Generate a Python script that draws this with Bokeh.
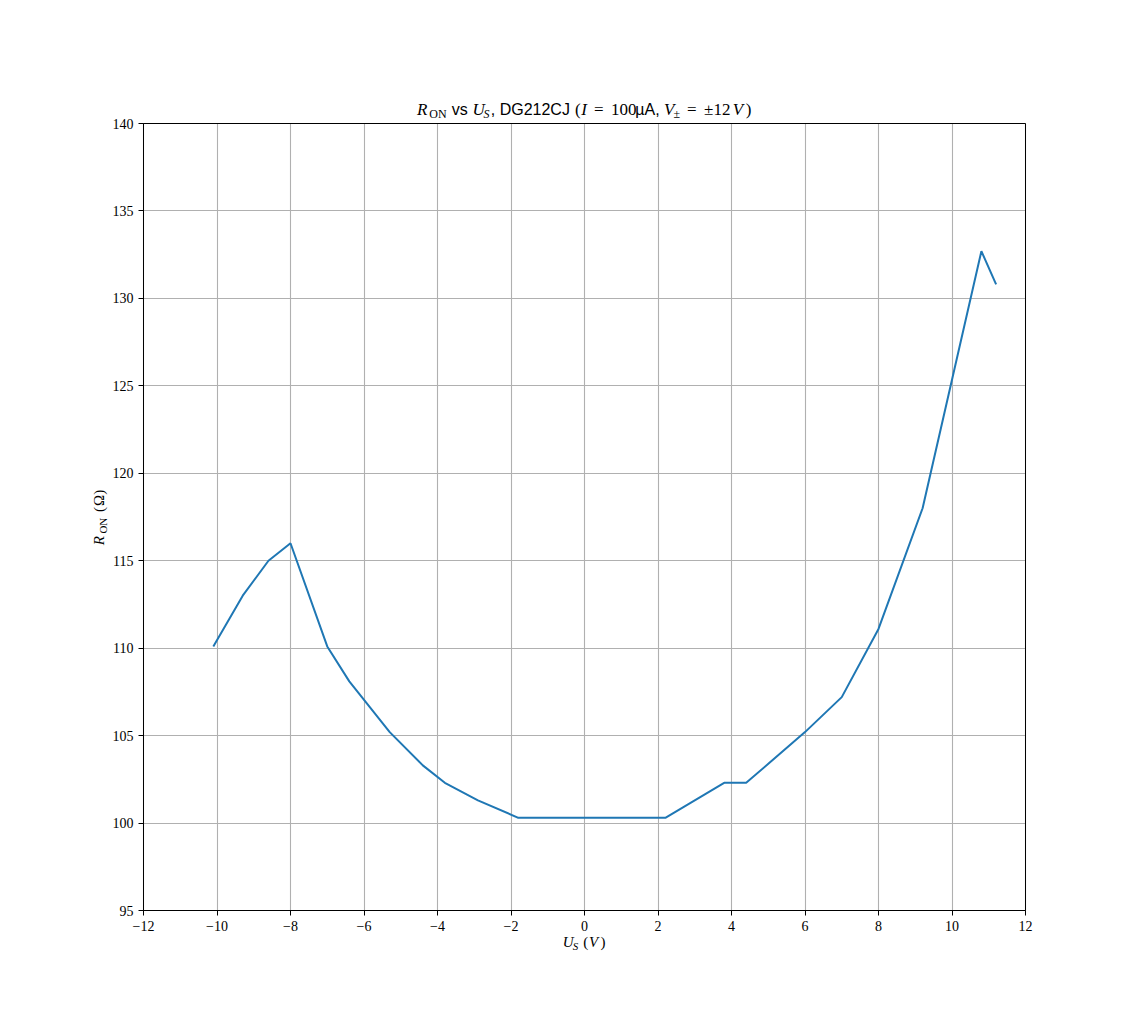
from bokeh.plotting import figure
from bokeh.models import (Label, CustomJSTickFormatter, FixedTicker, Range1d,
                          BoxAnnotation, Grid)
from bokeh.embed import file_html
from bokeh.resources import INLINE
import math

# ---- data ----
us_volts = [-10.1, -9.3, -8.6, -8.0, -7.0, -6.4, -5.3, -4.4, -3.8, -2.9,
            -1.8, 2.2, 3.8, 4.4, 6.0, 7.0, 8.0, 9.2, 10.8, 11.2]
r_on_ohm = [110.1, 113.0, 115.0, 116.0, 110.1, 108.1, 105.2, 103.3, 102.3, 101.3,
            100.3, 100.3, 102.3, 102.3, 105.2, 107.2, 111.1, 118.0, 132.7, 130.8]
x_ticks = list(range(-12, 13, 2))
y_ticks = list(range(95, 141, 5))
x_lim = (-12, 12)
y_lim = (95, 140)

SERIF = "Liberation Serif"
SANS = "Liberation Sans"

# layout (pixels): the frame covers most of the canvas so that the composed
# title / axis labels (inside the frame) are not clipped; the data box is
# placed at AX_L..AX_R x AX_T..AX_B of the canvas.
B_L, B_R, B_T, B_B = 60, 10, 10, 50
FW, FH = 1060, 955
AX_L, AX_R, AX_T, AX_B = 143, 1025, 123, 910
kx = (AX_R - AX_L) / (x_lim[1] - x_lim[0])
ky = (AX_B - AX_T) / (y_lim[1] - y_lim[0])
xr = Range1d(x_lim[0] - (AX_L - B_L) / kx, x_lim[1] + (B_L + FW - AX_R) / kx)
yr = Range1d(y_lim[0] - (B_T + FH - AX_B) / ky, y_lim[1] + (AX_T - B_T) / ky)

p = figure(frame_width=FW, frame_height=FH,
           min_border_left=B_L, min_border_right=B_R,
           min_border_top=B_T, min_border_bottom=B_B,
           x_range=xr, y_range=yr,
           output_backend="svg", toolbar_location=None)

p.background_fill_color = "white"
p.border_fill_color = "white"
p.outline_line_color = None

minus_fmt = "return tick < 0 ? '\u2212' + (-tick) : '' + tick;"
for ax, ticks, loc, bnd in ((p.xaxis[0], x_ticks, y_lim[0], x_lim),
                            (p.yaxis[0], y_ticks, x_lim[0], y_lim)):
    ax.ticker = FixedTicker(ticks=ticks, minor_ticks=[])
    ax.formatter = CustomJSTickFormatter(code=minus_fmt)
    ax.fixed_location = loc
    ax.bounds = bnd
    ax.major_label_text_font = SERIF
    ax.major_label_text_font_size = "14px"
    ax.major_label_text_color = "black"
    ax.major_tick_out = 5
    ax.major_tick_in = 0
    ax.major_tick_line_color = "black"
    ax.major_tick_line_width = 1
    ax.minor_tick_line_color = None
    ax.axis_line_color = "black"
    ax.axis_line_width = 1
    ax.major_label_standoff = 5

p.grid.grid_line_color = "#b0b0b0"
p.grid.grid_line_width = 1.1
if "cross_bounds" in Grid.properties():
    p.xgrid.cross_bounds = y_lim
    p.ygrid.cross_bounds = x_lim
else:
    for kw in (dict(right=x_lim[0]), dict(left=x_lim[1]),
               dict(top=y_lim[0]), dict(bottom=y_lim[1])):
        p.add_layout(BoxAnnotation(fill_color="white", fill_alpha=1,
                                   line_color=None, level="underlay", **kw))

p.line(us_volts, r_on_ohm, line_color="#1f77b4", line_width=2)

# axes box (spines)
p.add_layout(BoxAnnotation(left=x_lim[0], right=x_lim[1], bottom=y_lim[0], top=y_lim[1],
                           fill_alpha=0, line_color="black", line_width=1, line_alpha=1))

# ---- composed math-like texts (pieces laid out along a line) ----
# each piece: (text, font, style, size_px, start_em, sub_drop_px)
def place(pieces, em, total_em, x, y, x_off, y_off, vertical=False):
    half = total_em * em / 2.0
    for text, font, style, size, start, drop in pieces:
        along = -half + start * em
        if vertical:
            lab = Label(x=x, y=y, x_offset=x_off + drop, y_offset=y_off + along,
                        angle=math.pi / 2)
        else:
            lab = Label(x=x, y=y, x_offset=x_off + along, y_offset=y_off - drop)
        lab.text = text
        lab.text_font = font
        lab.text_font_style = style
        lab.text_font_size = f"{size}px"
        lab.text_color = "black"
        lab.text_align = "left"
        lab.text_baseline = "alphabetic"
        p.add_layout(lab)

x_mid = (x_lim[0] + x_lim[1]) / 2
y_mid = (y_lim[0] + y_lim[1]) / 2

title_pieces = [
    ("R", SERIF, "italic", 17, 0.000, 0),
    ("ON", SERIF, "normal", 12, 0.759, 4.5),
    ("vs", SANS, "normal", 16, 2.157, 0),
    ("U", SERIF, "italic", 17, 3.435, 0),
    ("S", SERIF, "italic", 12, 4.118, 4.5),
    (",", SANS, "normal", 16, 4.568, 0),
    ("DG212CJ", SANS, "normal", 16, 5.124, 0),
    ("(", SERIF, "normal", 17, 9.792, 0),
    ("I", SERIF, "italic", 17, 10.181, 0),
    ("=", SERIF, "normal", 17, 10.979, 0),
    ("100", SERIF, "normal", 17, 12.035, 0),
    ("µA,", SANS, "normal", 16, 13.535, 0),
    ("V", SERIF, "italic", 17, 15.314, 0),
    ("±", SERIF, "normal", 12, 15.897, 4.5),
    ("=", SERIF, "normal", 17, 16.745, 0),
    ("±12", SERIF, "normal", 17, 17.801, 0),
    ("V", SERIF, "italic", 17, 19.579, 0),
    (")", SERIF, "normal", 17, 20.382, 0),
]
place(title_pieces, 16.13, 20.771, x_mid, y_lim[1], 0, 14.3)

xlabel_pieces = [
    ("U", SERIF, "italic", 15, 0.000, 0),
    ("S", SERIF, "italic", 11, 0.683, 3.5),
    ("(", SERIF, "normal", 15, 1.411, 0),
    ("V", SERIF, "italic", 15, 1.800, 0),
    (")", SERIF, "normal", 15, 2.603, 0),
]
place(xlabel_pieces, 14.5, 2.992, x_mid, y_lim[0], 0, -31.5)

ylabel_pieces = [
    ("R", SERIF, "italic", 15, 0.000, 0),
    ("ON", SERIF, "normal", 11, 0.759, 3.5),
    ("(", SERIF, "normal", 15, 2.157, 0),
    ("Ω", SERIF, "normal", 15, 2.546, 0),
    (")", SERIF, "normal", 15, 3.268, 0),
]
place(ylabel_pieces, 15.5, 3.657, x_lim[0], y_mid, -44.5, 0, vertical=True)

open("out.html", "w").write(file_html(p, INLINE))
